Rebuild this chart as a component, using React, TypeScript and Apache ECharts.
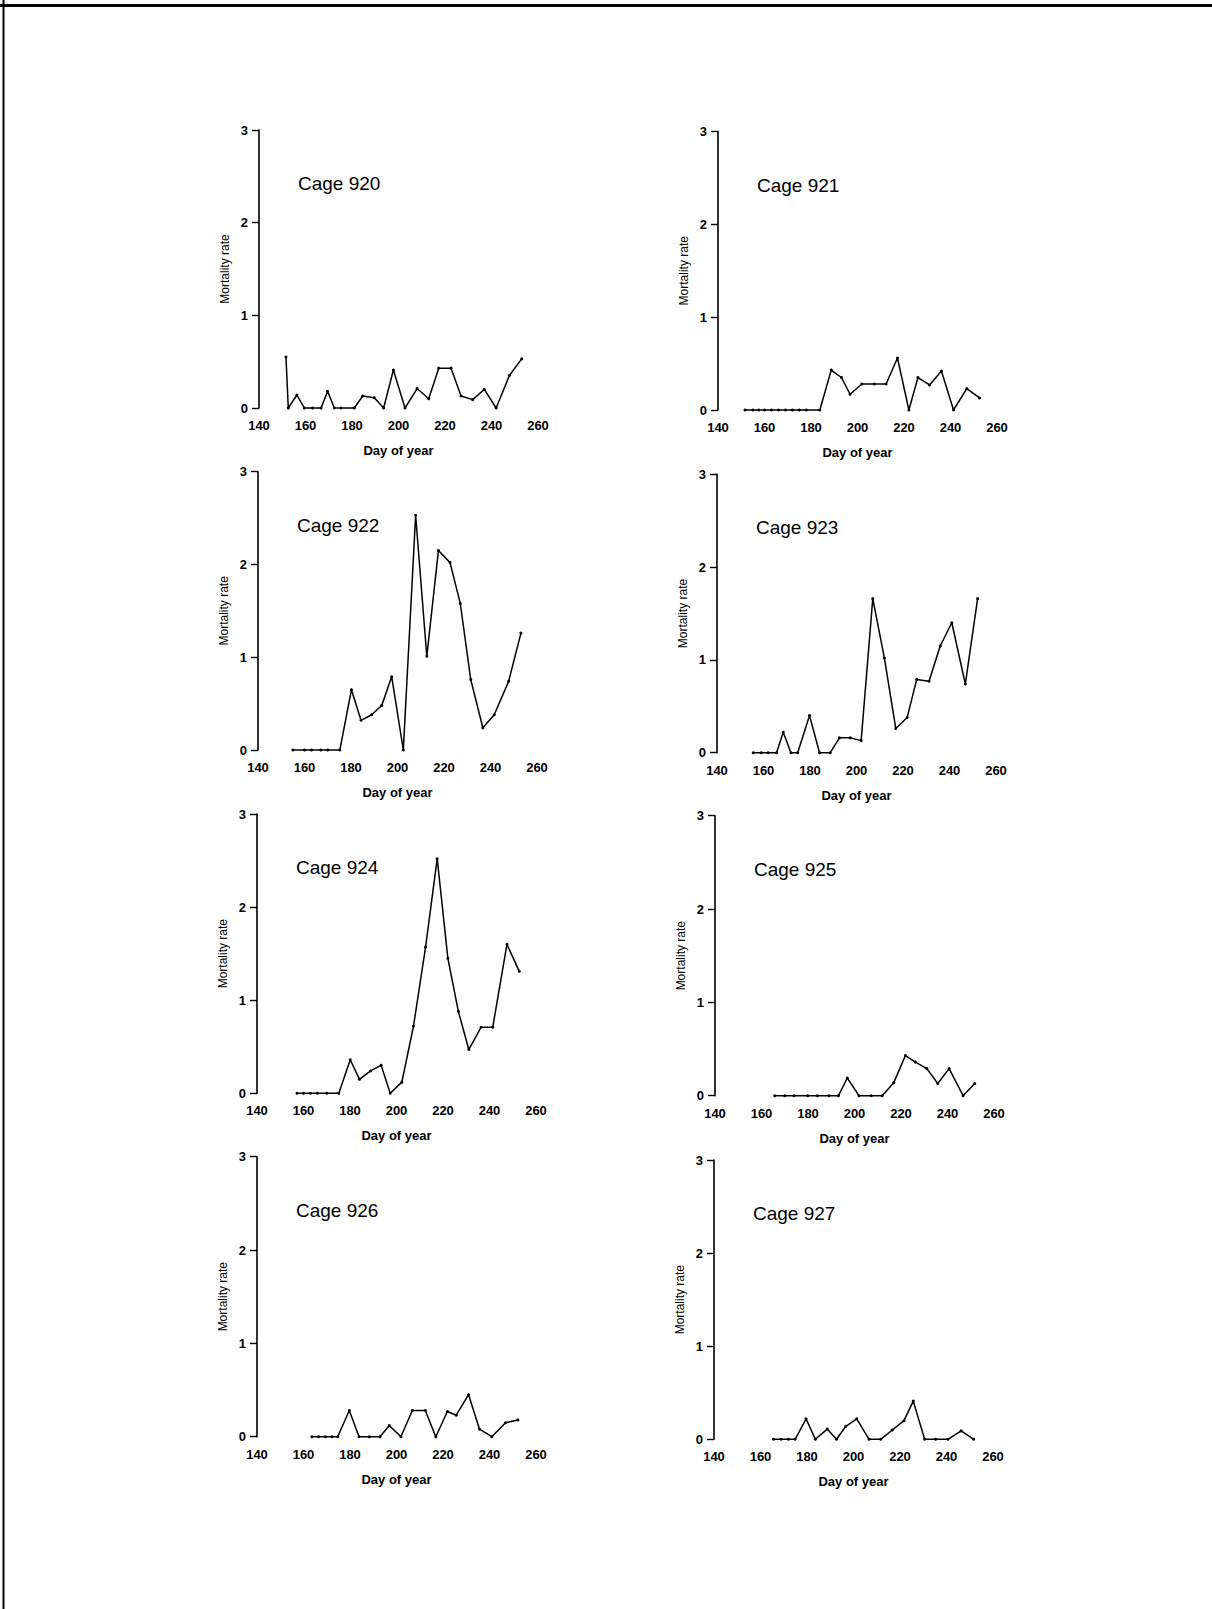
import React, { useEffect, useRef } from "react";
import * as echarts from "echarts";

// ---------- Data ----------
const cageNames = ["Cage 920", "Cage 921", "Cage 922", "Cage 923", "Cage 924", "Cage 925", "Cage 926", "Cage 927"];

const xTicks = [140, 160, 180, 200, 220, 240, 260];
const yTicks = [0, 1, 2, 3];

const days920 = [151.6, 152.6, 156.3, 159.5, 163, 166.7, 169.5, 172.4, 175.3, 181, 184.6, 189.6, 193.6, 197.8, 202.8, 208, 213, 217.3, 222.6, 226.9, 231.9, 236.9, 242, 247.7, 253];
const rate920 = [0.55, 0, 0.14, 0, 0, 0, 0.18, 0, 0, 0, 0.13, 0.11, 0, 0.41, 0, 0.21, 0.1, 0.43, 0.43, 0.13, 0.09, 0.2, 0, 0.35, 0.53];

const days921 = [151.6, 155, 157.5, 160, 163, 166, 169, 172, 175, 178, 183.8, 188.7, 193.1, 196.8, 201.9, 207.2, 212.3, 217.2, 222.1, 226, 231, 236.1, 241.3, 247, 252.5];
const rate921 = [0, 0, 0, 0, 0, 0, 0, 0, 0, 0, 0, 0.43, 0.35, 0.17, 0.28, 0.28, 0.28, 0.56, 0, 0.35, 0.27, 0.42, 0, 0.23, 0.13];

const days922 = [155, 160, 163, 167, 170, 175.2, 180.2, 184.3, 188.9, 193.2, 197.5, 202.5, 207.8, 212.6, 217.6, 222.6, 227, 231.5, 236.7, 241.6, 247.8, 253.1];
const rate922 = [0, 0, 0, 0, 0, 0, 0.65, 0.32, 0.38, 0.48, 0.79, 0, 2.53, 1.01, 2.15, 2.02, 1.58, 0.76, 0.24, 0.38, 0.74, 1.26];

const days923 = [155.6, 159, 162, 165.6, 168.5, 171.8, 174.7, 179.8, 184.1, 188.7, 192.7, 197.3, 202, 207, 212, 216.9, 221.8, 225.9, 231.2, 236, 241, 246.8, 252.1];
const rate923 = [0, 0, 0, 0, 0.22, 0, 0, 0.4, 0, 0, 0.16, 0.16, 0.13, 1.66, 1.02, 0.26, 0.38, 0.79, 0.77, 1.15, 1.4, 0.74, 1.66];

const days924 = [157.2, 160, 163, 166, 170, 175.2, 180.1, 184.1, 188.8, 193.4, 197.3, 202.3, 207.3, 212.5, 217.5, 222.1, 226.6, 231.1, 236.4, 241.4, 247.5, 252.8];
const rate924 = [0, 0, 0, 0, 0, 0, 0.36, 0.15, 0.24, 0.3, 0, 0.12, 0.72, 1.57, 2.52, 1.45, 0.88, 0.47, 0.71, 0.71, 1.6, 1.31];

const days925 = [165.7, 170, 174, 179.9, 184, 189, 193.1, 196.9, 201.9, 207.2, 211.9, 216.9, 221.9, 226.2, 231.1, 235.8, 240.7, 246.7, 251.7];
const rate925 = [0, 0, 0, 0, 0, 0, 0, 0.19, 0, 0, 0, 0.14, 0.43, 0.36, 0.29, 0.13, 0.29, 0, 0.13];

const days926 = [163.6, 166.5, 169.4, 172.3, 174.7, 179.7, 183.9, 188.3, 192.9, 196.9, 201.9, 206.8, 212.4, 216.9, 221.9, 225.7, 231, 235.7, 241, 246.9, 252.2];
const rate926 = [0, 0, 0, 0, 0, 0.28, 0, 0, 0, 0.12, 0, 0.28, 0.28, 0, 0.27, 0.23, 0.45, 0.08, 0, 0.15, 0.18];

const days927 = [165.6, 168.9, 172, 174.9, 179.6, 183.6, 188.7, 192.7, 196.7, 201.4, 206.7, 211.7, 216.7, 221.7, 225.7, 230.6, 235.3, 240.6, 246.3, 251.7];
const rate927 = [0, 0, 0, 0, 0.22, 0, 0.11, 0, 0.14, 0.22, 0, 0, 0.1, 0.2, 0.41, 0, 0, 0, 0.09, 0];

const allDays = [days920, days921, days922, days923, days924, days925, days926, days927];
const allRates = [rate920, rate921, rate922, rate923, rate924, rate925, rate926, rate927];

// ---------- Layout (pixel positions of each panel) ----------
const panelLayout = [
  { left: 259, top: 130, bottom: 408 },
  { left: 718, top: 131.5, bottom: 410 },
  { left: 258, top: 471.7, bottom: 750 },
  { left: 717, top: 474.3, bottom: 752.7 },
  { left: 257, top: 814, bottom: 1093.3 },
  { left: 715, top: 815.7, bottom: 1095.7 },
  { left: 257, top: 1156.7, bottom: 1436.7 },
  { left: 714, top: 1160, bottom: 1439.3 },
];
const PANEL_WIDTH = 279;
const FONT = "'Liberation Sans', Arial, Helvetica, sans-serif";

export default function App() {
  const ref = useRef<HTMLDivElement>(null);

  useEffect(() => {
    if (!ref.current) return;
    const chart = echarts.init(ref.current, null, { renderer: "svg" });

    const grids = panelLayout.map((p) => ({
      left: p.left,
      top: p.top,
      width: PANEL_WIDTH,
      height: p.bottom - p.top,
      containLabel: false,
    }));

    const xAxes = panelLayout.map((_, i) => ({
      type: "value",
      gridIndex: i,
      min: xTicks[0],
      max: xTicks[xTicks.length - 1],
      interval: xTicks[1] - xTicks[0],
      axisLine: { show: false },
      axisTick: { show: false },
      splitLine: { show: false },
      axisLabel: {
        show: true,
        showMinLabel: true,
        showMaxLabel: true,
        color: "#000",
        fontSize: 13,
        fontWeight: "bold",
        fontFamily: FONT,
        margin: 11,
      },
      name: "Day of year",
      nameLocation: "middle",
      nameGap: 36,
      nameTextStyle: { color: "#000", fontSize: 13, fontWeight: "bold", fontFamily: FONT },
    }));

    const yAxes = panelLayout.map((_, i) => ({
      type: "value",
      gridIndex: i,
      min: yTicks[0],
      max: yTicks[yTicks.length - 1],
      interval: 1,
      axisLine: { show: true, onZero: false, lineStyle: { color: "#000", width: 1.6 } },
      axisTick: { show: true, inside: false, length: 7, lineStyle: { color: "#000", width: 1.4 } },
      splitLine: { show: false },
      axisLabel: {
        color: "#000",
        fontSize: 13,
        fontWeight: "bold",
        fontFamily: FONT,
        margin: 11,
      },
      name: "Mortality rate",
      nameLocation: "middle",
      nameGap: 28,
      nameTextStyle: { color: "#000", fontSize: 12, fontFamily: FONT },
    }));

    const series = panelLayout.map((_, i) => ({
      type: "line",
      xAxisIndex: i,
      yAxisIndex: i,
      data: allDays[i].map((d, j) => [d, allRates[i][j]]),
      symbol: "circle",
      symbolSize: 3,
      showSymbol: true,
      clip: false,
      itemStyle: { color: "#000" },
      lineStyle: { color: "#000", width: 1.5 },
    }));

    const titles = panelLayout.map((p, i) => ({
      text: cageNames[i],
      left: p.left + 39,
      top: p.top + 44,
      padding: 0,
      textStyle: { color: "#000", fontSize: 19, fontWeight: "normal", fontFamily: FONT },
    }));

    chart.setOption({
      animation: false,
      backgroundColor: "#fff",
      title: titles,
      grid: grids,
      xAxis: xAxes,
      yAxis: yAxes,
      series,
      graphic: [
        { type: "line", shape: { x1: 0, y1: 5.5, x2: 1212, y2: 5.5 }, style: { stroke: "#000", lineWidth: 3 } },
        { type: "line", shape: { x1: 3.5, y1: 0, x2: 3.5, y2: 1609 }, style: { stroke: "#000", lineWidth: 2 } },
      ],
    });

    return () => chart.dispose();
  }, []);

  return (
    <div
      ref={ref}
      style={{ position: "absolute", left: 0, top: 0, width: 1212, height: 1609, background: "#fff" }}
    />
  );
}
